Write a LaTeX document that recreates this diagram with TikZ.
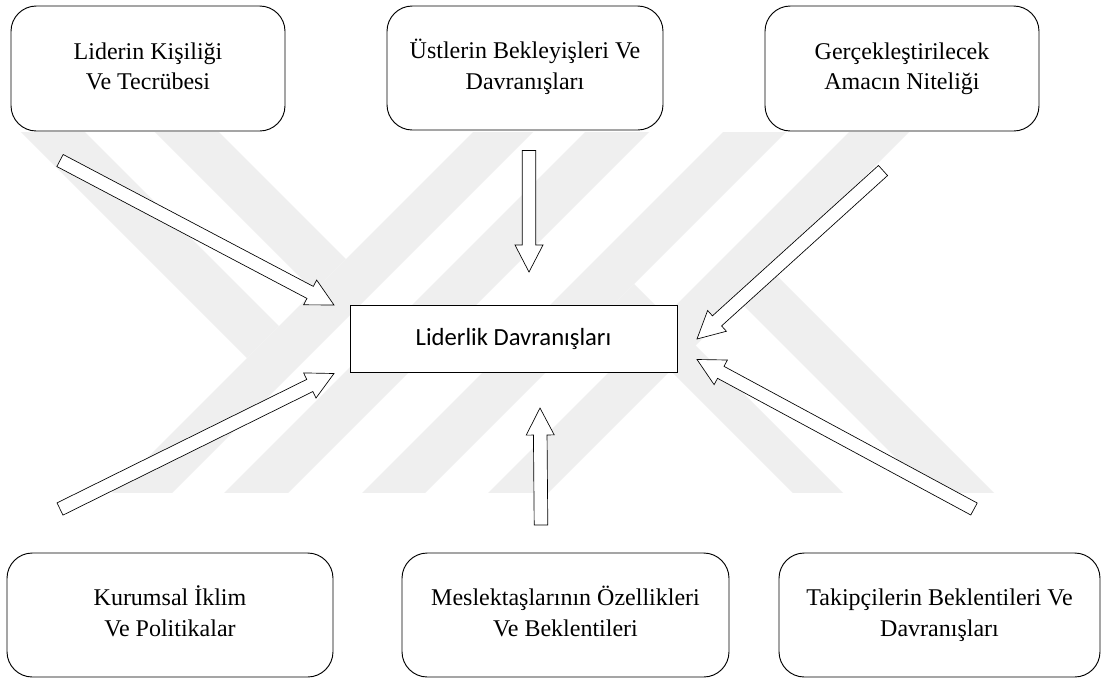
\documentclass[tikz,border=0pt]{standalone}
\usepackage{fontspec}
\setmainfont{Liberation Serif}
\newfontfamily\calibrifont{Carlito}
\usetikzlibrary{calc}
\definecolor{wmgray}{RGB}{239,239,239}
% block arrow from tail #1 to tip #2
\newcommand\blockarrow[2]{%
  \coordinate (bahead) at ($(#2)!20.25pt!(#1)$);
  \draw[blockarrow] ($(#1)!5.1pt!90:(#2)$) -- ($(bahead)!5.1pt!90:(#2)$)
    -- ($(bahead)!10.5pt!90:(#2)$) -- (#2) -- ($(bahead)!10.5pt!-90:(#2)$)
    -- ($(bahead)!5.1pt!-90:(#2)$) -- ($(#1)!5.1pt!-90:(#2)$) -- cycle;}
% two-line box text with fixed baselines
\newcommand\twolines[2]{\strut#1\\#2\strut}
\begin{document}
\begin{tikzpicture}[x=0.75pt,y=-0.75pt,
  box/.style={draw=black, line width=0.7pt, fill=white, rounded corners=19pt,
    align=center, font=\fontsize{18}{23}\selectfont, inner sep=0pt},
  mainbox/.style={draw=black, line width=0.7pt, fill=white, inner sep=0pt,
    font=\calibrifont\fontsize{18.5}{22}\selectfont},
  blockarrow/.style={draw=black, line width=0.5pt, fill=white, line join=miter},
  band/.style={fill=wmgray}]
\useasboundingbox (0,0) rectangle (1103,679);
\fill[white] (0,0) rectangle (1103,679);

% background emblem made of diagonal stripes
\begin{scope}
  \clip (0,132) rectangle (1103,492);
  \foreach \xb/\w in {113/60,225/64,363/63,489/60}{
    \fill[band] (\xb-8,500) -- (\xb+\w-8,500) -- (\xb+\w+368,124) -- (\xb+368,124) -- cycle;}
  \fill[band] (13,124) -- (77,124) -- (279,326) -- (247,358) -- cycle;
  \fill[band] (147,124) -- (211,124) -- (346,259) -- (314,291) -- cycle;
  \fill[band] (800,500) -- (850,500) -- (634,284) -- (609,309) -- cycle;
  \fill[band] (938,500) -- (1001,500) -- (771,270) -- (739.5,301.5) -- cycle;
\end{scope}

% arrow ends
\coordinate (a1t) at (60,160.5);  \coordinate (a1h) at (334,305);
\coordinate (a2t) at (529,150.5); \coordinate (a2h) at (529,272);
\coordinate (a3t) at (883,170.5); \coordinate (a3h) at (697,339);
\coordinate (a4t) at (60,509);    \coordinate (a4h) at (334,373.5);
\coordinate (a5t) at (541,525);   \coordinate (a5h) at (540,408);
\coordinate (a6t) at (974,509);   \coordinate (a6h) at (697,359.5);

\blockarrow{a1t}{a1h}
\blockarrow{a2t}{a2h}
\blockarrow{a3t}{a3h}
\blockarrow{a4t}{a4h}
\blockarrow{a5t}{a5h}
\blockarrow{a6t}{a6h}

% factor boxes
\node[box, minimum width=274*0.75pt, minimum height=125*0.75pt] (kisilik) at (148,68.5)
  {\twolines{Liderin Kişiliği}{Ve Tecrübesi}};
\node[box, minimum width=276*0.75pt, minimum height=124*0.75pt] (ustler) at (525,68)
  {\twolines{Üstlerin Bekleyişleri Ve}{Davranışları}};
\node[box, minimum width=274*0.75pt, minimum height=125*0.75pt] (amac) at (902,68.5)
  {\twolines{Gerçekleştirilecek}{Amacın Niteliği}};
\node[box, minimum width=326*0.75pt, minimum height=124*0.75pt] (iklim) at (170,615)
  {\twolines{Kurumsal İklim}{Ve Politikalar}};
\node[box, minimum width=327*0.75pt, minimum height=124*0.75pt] (meslek) at (565.5,615)
  {\twolines{Meslektaşlarının Özellikleri}{Ve Beklentileri}};
\node[box, minimum width=321*0.75pt, minimum height=124*0.75pt] (takip) at (939.5,615)
  {\twolines{Takipçilerin Beklentileri Ve}{Davranışları}};

% central box
\node[mainbox, minimum width=327*0.75pt, minimum height=67*0.75pt] (ldr) at (513.5,339.3)
  {Liderlik Davranışları};
\end{tikzpicture}
\end{document}
